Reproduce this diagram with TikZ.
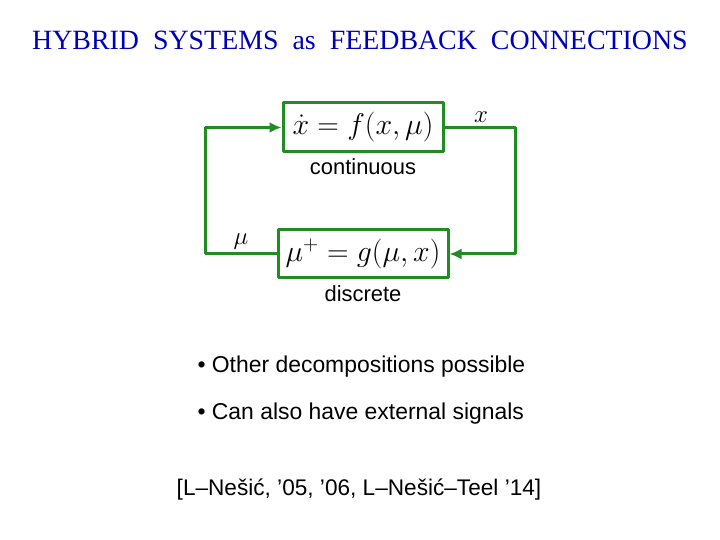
\RequirePackage{fix-cm}
\documentclass[tikz,border=0pt]{standalone}
\usepackage{amsmath}
\usepackage{fontspec}
\setmainfont{Liberation Sans}
\newfontfamily\titlefont{Liberation Serif}
\usepackage{tikz}
\usetikzlibrary{arrows.meta}
\definecolor{boxgreen}{rgb}{0.13,0.55,0.13}
\definecolor{titleblue}{rgb}{0.0,0.0,0.72}

\begin{document}
\begin{tikzpicture}[>={Latex[length=12bp,width=11bp]},line join=bevel,]
%%
\useasboundingbox (0bp,0bp) rectangle (720bp,540bp);
  \node (title) at (360.0bp,500.0bp) [titleblue] {\titlefont\fontsize{28}{32}\selectfont HYBRID\ \ SYSTEMS\ \ as\ \ FEEDBACK\ \ CONNECTIONS};
  \node (cont) at (363.0bp,412.5bp) [draw=boxgreen,line width=3bp,minimum width=160bp,minimum height=49bp,inner sep=0pt] {\fontsize{30}{34}\selectfont $\dot x = f(x,\mu)$};
  \node (disc) at (363.0bp,286.0bp) [draw=boxgreen,line width=3bp,minimum width=170bp,minimum height=48bp,inner sep=0pt] {\fontsize{30}{34}\selectfont $\mu^+ = g(\mu,x)$};
  \coordinate (inv0) at (205.0bp,286.0bp);
  \coordinate (inv1) at (205.0bp,412.5bp);
  \coordinate (inv2) at (515.0bp,412.5bp);
  \coordinate (inv3) at (515.0bp,286.0bp);
  \node (lx) at (481.0bp,423.0bp) {\fontsize{25}{28}\selectfont $x$};
  \node (lmu) at (241.0bp,298.0bp) {\fontsize{25}{28}\selectfont $\mu$};
  \node (lcont) at (363.0bp,373.0bp) {\fontsize{22}{26}\selectfont continuous};
  \node (ldisc) at (363.0bp,246.0bp) {\fontsize{22}{26}\selectfont discrete};
  \node (b1) at (194.0bp,173.0bp) [anchor=west] {\fontsize{23}{27}\selectfont \textbullet\ Other decompositions possible};
  \node (b2) at (194.0bp,126.0bp) [anchor=west] {\fontsize{23}{27}\selectfont \textbullet\ Can also have external signals};
  \node (ref) at (359.0bp,50.0bp) {\fontsize{22.7}{27}\selectfont [L--Nešić, ’05, ’06, L--Nešić--Teel ’14]};
  \draw [boxgreen,line width=3bp,->] (disc) -- (inv0) -- (inv1) -- (cont);
  \draw [boxgreen,line width=3bp,->] (cont) -- (inv2) -- (inv3) -- (disc);
%
\end{tikzpicture}
\end{document}
